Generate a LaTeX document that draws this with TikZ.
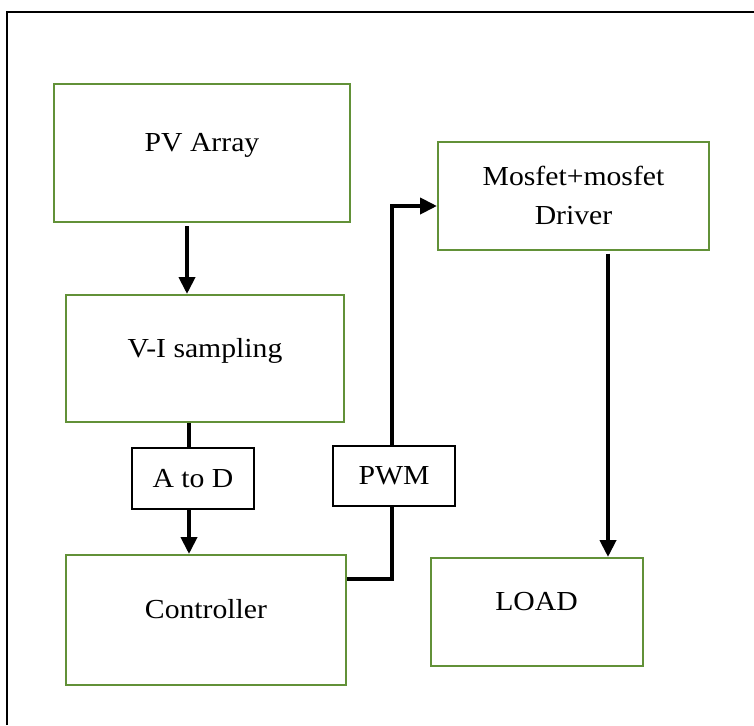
\documentclass[tikz,border=0pt]{standalone}
\usepackage{fontspec}
\setmainfont{Liberation Serif}[FakeStretch=1.08]
\usetikzlibrary{arrows.meta}
\definecolor{boxgreen}{RGB}{98,145,56}
\begin{document}
\begin{tikzpicture}[x=1pt,y=-1pt,
  every node/.style={font=\fontsize{27.5pt}{39pt}\selectfont},
  gbox/.style={draw=boxgreen, line width=2pt, inner sep=0pt, text height=19pt, text depth=22pt},
  gboxml/.style={draw=boxgreen, line width=2pt, inner sep=0pt, align=center},
  kbox/.style={draw=black, line width=2pt, inner sep=0pt},
  conn/.style={line width=4pt, draw=black},
  arr/.style={conn, -{Triangle[width=16pt,length=17pt]}}]
\useasboundingbox (0,0) rectangle (754,725);
\draw[line width=1.8pt] (7,725) -- (7,12) -- (754,12);
\node[gbox, minimum width=296pt, minimum height=138pt] (pv) at (202,153) {PV Array};
\node[gbox, minimum width=278pt, minimum height=127pt] (vi) at (205,358.5) {V-I sampling};
\node[gbox, minimum width=280pt, minimum height=130pt] (ctrl) at (206,620) {Controller};
\node[kbox, minimum width=122pt, minimum height=61pt] (atod) at (193,478.5) {A to D};
\node[kbox, minimum width=122pt, minimum height=60pt] (pwm) at (394,476) {PWM};
\node[gboxml, minimum width=271pt, minimum height=108pt] (mos) at (573.5,195.5) {Mosfet+mosfet\\Driver};
\node[gbox, minimum width=212pt, minimum height=108pt] (load) at (536.5,612) {LOAD};
\draw[arr] ([xshift=-15pt,yshift=-3pt]pv.south) -- ([xshift=-18pt]vi.north);
\draw[conn] ([xshift=-16pt]vi.south) -- ([xshift=-4pt]atod.north);
\draw[arr] ([xshift=-4pt]atod.south) -- ([xshift=-17pt]ctrl.north);
\draw[conn] ([yshift=41pt]ctrl.east) -| ([xshift=-2pt]pwm.south);
\draw[arr] ([xshift=-2pt]pwm.north) |- ([yshift=-10.5pt]mos.west);
\draw[arr] ([xshift=34.5pt,yshift=-3pt]mos.south) -- ([xshift=71.5pt]load.north);
\end{tikzpicture}
\end{document}
